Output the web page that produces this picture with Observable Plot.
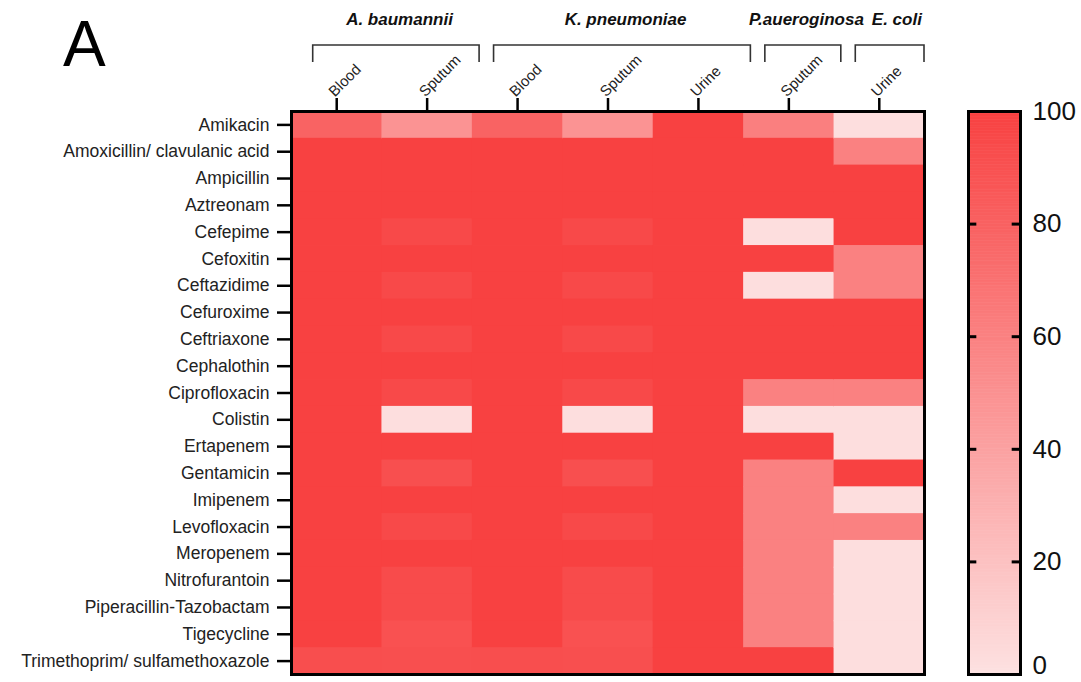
<!DOCTYPE html>
<html><head><meta charset="utf-8">
<script src="https://cdn.jsdelivr.net/npm/d3@7"></script>
<script src="https://cdn.jsdelivr.net/npm/@observablehq/plot@0.6"></script>
<style>
body{margin:0;background:#fff;}
#wrap{position:relative;width:1081px;height:682px;overflow:hidden;font-family:"Liberation Sans",Arial,sans-serif;}
#panel{position:absolute;left:63px;top:12px;font-size:64px;line-height:64px;color:#000;}
#main{position:absolute;left:0;top:0;}
#legend{position:absolute;left:950px;top:0;}
</style></head><body>
<div id="wrap"><div id="panel">A</div><div id="main"></div><div id="legend"></div></div>
<script>
// ---- data ----
const drugs = ["Amikacin","Amoxicillin/ clavulanic acid","Ampicillin","Aztreonam","Cefepime","Cefoxitin","Ceftazidime","Cefuroxime","Ceftriaxone","Cephalothin","Ciprofloxacin","Colistin","Ertapenem","Gentamicin","Imipenem","Levofloxacin","Meropenem","Nitrofurantoin","Piperacillin-Tazobactam","Tigecycline","Trimethoprim/ sulfamethoxazole"];
const organisms = ["A. baumannii","A. baumannii","K. pneumoniae","K. pneumoniae","K. pneumoniae","P.aueroginosa","E. coli"];
const samples = ["Blood","Sputum","Blood","Sputum","Urine","Sputum","Urine"];
const abBlood   = [79,100,100,100,100,100,100,100,100,100,100,100,100,100,100,100,100,100,100,100,92];
const abSputum  = [49,100,100,100,95,100,95,100,95,100,95,2,100,91,100,95,100,94,94,90,91];
const kpBlood   = [79,100,100,100,100,100,100,100,100,100,100,100,100,100,100,100,100,100,100,100,92];
const kpSputum  = [49,100,100,100,95,100,95,100,95,100,95,2,100,91,100,95,100,94,94,90,91];
const kpUrine   = [100,100,100,100,100,100,100,100,100,100,100,100,100,100,100,100,100,100,100,100,100];
const paSputum  = [61,100,100,100,2,100,2,100,100,100,60,2,100,60,60,60,60,60,60,60,100];
const ecUrine   = [2,60,100,100,100,60,60,100,100,100,60,2,2,100,2,60,2,2,2,2,2];
const series = [abBlood, abSputum, kpBlood, kpSputum, kpUrine, paSputum, ecUrine];
const legendTicks = [0,20,40,60,80,100];

// ---- build table ----
const columns = samples.map((s,i)=>organisms[i]+" | "+s);
const cells = [];
columns.forEach((c,i)=>drugs.forEach((d,j)=>cells.push({col:c, drug:d, value:series[i][j]})));
const groups = [];
organisms.forEach((o,i)=>{
  const g = groups.find(g=>g.name===o);
  if (g) g.last = columns[i]; else groups.push({name:o, first:columns[i], last:columns[i]});
});

const color = {type:"linear", domain:[0,100], range:["#fde1e1","#f84141"]};
const W=950, H=682, ML=291, MR=26, MT=111, MB=8;
const font = "Liberation Sans, Arial, sans-serif";

const main = Plot.plot({
  width:W, height:H, marginLeft:ML, marginRight:MR, marginTop:MT, marginBottom:MB,
  style:{fontFamily:font, background:"transparent", overflow:"visible"},
  x:{type:"band", domain:columns, padding:0, round:false, axis:null},
  y:{type:"band", domain:drugs, padding:0, round:false, axis:null},
  color,
  marks:[
    Plot.cell(cells, {x:"col", y:"drug", fill:"value", insetRight:-0.8, insetBottom:-0.8}),
    Plot.frame({stroke:"black", strokeWidth:3}),
    Plot.axisY({tickSize:14, tickPadding:8, fontSize:17.5, strokeWidth:2.5, stroke:"black", fill:"#222", label:null}),
    Plot.ruleX(columns, {x:d=>d, insetTop:-13, insetBottom:H-MT-MB, strokeWidth:2.5, stroke:"black"}),
    Plot.text(columns, {x:d=>d, text:(d,i)=>samples[i], frameAnchor:"top", rotate:-45, textAnchor:"start", lineAnchor:"bottom", dx:-2, dy:-14, fontSize:15, fill:"#222"})
  ]
});
document.getElementById("main").appendChild(main);

// group brackets and labels from the x scale
const xs = main.scale("x");
const bw = xs.bandwidth;
const svg = d3.select(main);
const gg = svg.append("g").attr("fill","none").attr("stroke","#333").attr("stroke-width",1.6);
groups.forEach(g=>{
  const x1 = xs.apply(g.first) + 0.24*bw;
  const x2 = Math.min(xs.apply(g.last) + 1.08*bw, W-MR);
  gg.append("path").attr("d", `M${x1},62V45H${x2}V62`);
  const cx = (xs.apply(g.first) + xs.apply(g.last) + bw)/2 + 0.2*bw;
  svg.append("text").attr("x",cx).attr("y",25).attr("text-anchor","middle")
    .attr("font-family",font).attr("font-size",17).attr("font-weight","bold").attr("font-style","italic")
    .attr("fill","#111").text(g.name);
});

// colour bar legend
const legend = Plot.plot({
  width:131, height:H, marginLeft:18, marginRight:61, marginTop:MT, marginBottom:MB,
  style:{fontFamily:font, background:"transparent", overflow:"visible"},
  x:{domain:[0,1], axis:null},
  y:{domain:[0,100], axis:null},
  color,
  marks:[
    Plot.rect(d3.range(0,100,0.5), {x1:0, x2:1, y1:d=>d, y2:d=>d+0.5, fill:d=>d+0.25, stroke:d=>d+0.25, strokeWidth:0.6}),
    Plot.frame({stroke:"black", strokeWidth:3}),
    Plot.ruleY(legendTicks.slice(1,-1), {y:d=>d, x1:0, x2:0.16, strokeWidth:3, stroke:"black"}),
    Plot.ruleY(legendTicks.slice(1,-1), {y:d=>d, x1:0.84, x2:1, strokeWidth:3, stroke:"black"}),
    Plot.axisY(legendTicks.slice(1), {anchor:"right", tickSize:0, tickPadding:12, fontSize:26, fill:"#111", label:null}),
    Plot.text(legendTicks.slice(0,1), {y:d=>d, text:d=>String(d), frameAnchor:"right", textAnchor:"start", lineAnchor:"bottom", dx:12, dy:-1, fontSize:26, fill:"#111"})
  ]
});
document.getElementById("legend").appendChild(legend);
</script>
</body></html>
